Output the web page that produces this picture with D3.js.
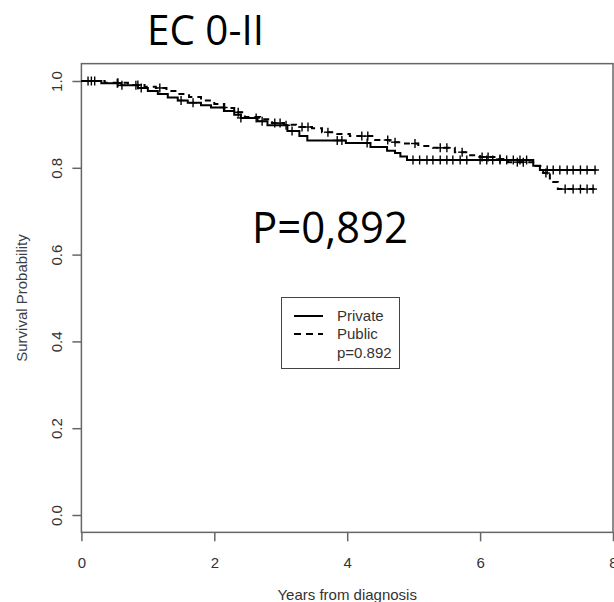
<!DOCTYPE html>
<html>
<head>
<meta charset="utf-8">
<script src="https://cdn.jsdelivr.net/npm/d3@7"></script>
<style>
  html, body { margin: 0; padding: 0; background: #fff; }
  svg { display: block; }
</style>
</head>
<body>
<svg id="chart" width="614" height="602"></svg>
<script>
// ---------------- data ----------------
const xTicks = [0, 2, 4, 6, 8];
const yTicks = [0.0, 0.2, 0.4, 0.6, 0.8, 1.0];

// Private (solid) : event times and survival after each step
const privateTimes = [0.30, 0.60, 0.85, 1.00, 1.15, 1.30, 1.45, 1.60, 1.80, 1.95, 2.15, 2.30, 2.40, 2.65, 2.80, 3.10, 3.28, 3.40, 3.98, 4.35, 4.60, 4.72, 4.80, 4.90, 6.80, 6.90];
const privateSurv  = [0.995, 0.990, 0.984, 0.977, 0.970, 0.962, 0.955, 0.950, 0.944, 0.939, 0.931, 0.922, 0.915, 0.907, 0.898, 0.885, 0.873, 0.863, 0.857, 0.848, 0.839, 0.834, 0.826, 0.818, 0.805, 0.795];
const privateCensor = [0.10, 0.20, 0.54, 0.61, 0.82, 0.90, 1.50, 1.68, 2.14, 2.40, 2.63, 2.72, 3.08, 3.17, 3.85, 3.92, 4.30, 4.99, 5.09, 5.20, 5.29, 5.40, 5.50, 5.59, 5.70, 5.80, 6.00, 6.10, 6.19, 6.30, 6.40, 6.50, 6.60, 6.70, 7.01, 7.10, 7.20, 7.31, 7.40, 7.51, 7.61, 7.73];
const privateEnd = 7.75;

// Public (dashed)
const publicTimes = [0.35, 0.70, 0.95, 1.12, 1.28, 1.45, 1.62, 1.80, 2.00, 2.15, 2.30, 2.46, 2.69, 2.87, 3.05, 3.23, 3.47, 3.62, 3.85, 4.04, 4.42, 4.64, 4.87, 5.07, 5.29, 5.62, 5.82, 6.00, 6.24, 6.42, 6.84, 6.95, 7.05, 7.17];
const publicSurv  = [0.996, 0.991, 0.987, 0.984, 0.977, 0.970, 0.963, 0.955, 0.947, 0.938, 0.928, 0.917, 0.912, 0.903, 0.899, 0.894, 0.891, 0.882, 0.878, 0.873, 0.864, 0.859, 0.856, 0.850, 0.846, 0.836, 0.829, 0.825, 0.820, 0.813, 0.804, 0.788, 0.767, 0.751];
const publicCensor = [0.15, 0.55, 0.85, 1.18, 2.36, 2.91, 2.99, 3.32, 3.41, 3.71, 4.22, 4.31, 4.61, 4.72, 5.02, 5.40, 5.50, 5.73, 6.03, 6.12, 6.30, 6.56, 6.65, 6.99, 7.28, 7.40, 7.51, 7.61, 7.70];
const publicEnd = 7.72;

const groupNames = ["Private", "Public"];
const pValueText = "p=0.892";
const bigPText = "P=0,892";
const titleText = "EC 0-II";
const xLabel = "Years from diagnosis";
const yLabel = "Survival Probability";

// ---------------- chart ----------------
const svg = d3.select("#chart");
const x = d3.scaleLinear().domain([0, 8]).range([81.4, 613]);
const y = d3.scaleLinear().domain([0, 1]).range([515, 81]);
const axisColor = "#666";
const textColor = "#333";
const tickFont = "Liberation Sans, Arial, sans-serif";

// frame (box) with 4% y extension
const y0px = y(-0.04), y1px = y(1.04);
svg.append("rect")
  .attr("x", x(0)).attr("y", y1px)
  .attr("width", x(8) - x(0)).attr("height", y0px - y1px)
  .attr("fill", "none").attr("stroke", axisColor).attr("stroke-width", 1.5);

// x axis
const xAxis = d3.axisBottom(x).tickValues(xTicks).tickFormat(d3.format("d")).tickSize(9).tickPadding(16);
const gx = svg.append("g").attr("transform", `translate(0,${y0px})`).call(xAxis);
gx.select(".domain").remove();
gx.selectAll("line").attr("stroke", axisColor).attr("stroke-width", 1.5);
gx.selectAll("text").attr("font-family", tickFont).attr("font-size", 15).attr("fill", textColor);

// y axis
const yAxis = d3.axisLeft(y).tickValues(yTicks).tickFormat(d3.format(".1f")).tickSize(9).tickPadding(0);
const gy = svg.append("g").attr("transform", `translate(${x(0)},0)`).call(yAxis);
gy.select(".domain").remove();
gy.selectAll("line").attr("stroke", axisColor).attr("stroke-width", 1.5);
gy.selectAll("text")
  .attr("font-family", tickFont).attr("font-size", 15).attr("fill", textColor)
  .attr("x", null).attr("dy", null)
  .attr("text-anchor", "middle")
  .attr("transform", "translate(-19,0) rotate(-90)");

// axis labels
svg.append("text")
  .attr("x", x(4)).attr("y", 600)
  .attr("text-anchor", "middle")
  .attr("font-family", tickFont).attr("font-size", 15).attr("fill", textColor)
  .text(xLabel);

svg.append("clipPath").attr("id", "ylabClip")
  .append("rect").attr("x", 15).attr("y", 0).attr("width", 60).attr("height", 602);
svg.append("g").attr("clip-path", "url(#ylabClip)")
  .append("text")
  .attr("transform", `translate(27,${y(0.5)}) rotate(-90)`)
  .attr("text-anchor", "middle")
  .attr("font-family", tickFont).attr("font-size", 15).attr("fill", "#3a3f4a")
  .text(yLabel);

// curves
function stepPoints(times, surv, end) {
  const pts = [[0, 1]];
  times.forEach((t, i) => pts.push([t, surv[i]]));
  pts.push([end, surv[surv.length - 1]]);
  return pts;
}
function survAt(times, surv, t) {
  const i = d3.bisectRight(times, t);
  return i === 0 ? 1 : surv[i - 1];
}
const line = d3.line().x(d => x(d[0])).y(d => y(d[1])).curve(d3.curveStepAfter);

const series = [
  { times: privateTimes, surv: privateSurv, cens: privateCensor, end: privateEnd, dash: null },
  { times: publicTimes, surv: publicSurv, cens: publicCensor, end: publicEnd, dash: "6,5" }
];

series.slice().reverse().forEach(s => {
  svg.append("path")
    .attr("d", line(stepPoints(s.times, s.surv, s.end)))
    .attr("fill", "none").attr("stroke", "#000").attr("stroke-width", 2)
    .attr("stroke-dasharray", s.dash);
  const g = svg.append("g");
  s.cens.forEach(t => {
    const cx = x(t), cy = y(survAt(s.times, s.surv, t));
    g.append("line").attr("x1", cx - 4).attr("x2", cx + 4).attr("y1", cy).attr("y2", cy)
      .attr("stroke", "#000").attr("stroke-width", 1.4);
    g.append("line").attr("x1", cx).attr("x2", cx).attr("y1", cy - 4.5).attr("y2", cy + 4.5)
      .attr("stroke", "#000").attr("stroke-width", 1.4);
  });
});

// legend
const leg = svg.append("g");
leg.append("rect").attr("x", 281.5).attr("y", 297.5).attr("width", 118).attr("height", 71)
  .attr("fill", "#fff").attr("stroke", "#444").attr("stroke-width", 1);
const legRows = [321, 339, 358];
groupNames.forEach((name, i) => {
  leg.append("line").attr("x1", 294).attr("x2", 323)
    .attr("y1", legRows[i] - 5).attr("y2", legRows[i] - 5)
    .attr("stroke", "#000").attr("stroke-width", 2)
    .attr("stroke-dasharray", series[i].dash ? "7,5" : null);
  leg.append("text").attr("x", 337).attr("y", legRows[i])
    .attr("font-family", tickFont).attr("font-size", 15).attr("fill", "#333").text(name);
});
leg.append("text").attr("x", 337).attr("y", legRows[2])
  .attr("font-family", tickFont).attr("font-size", 15).attr("fill", "#333").text(pValueText);

// big annotations
svg.append("text").attr("x", 147).attr("y", 45)
  .attr("font-family", "Open Sans, sans-serif").attr("font-size", 42).attr("fill", "#000")
  .attr("textLength", 117).attr("lengthAdjust", "spacingAndGlyphs")
  .text(titleText);
svg.append("text").attr("x", 252).attr("y", 243)
  .attr("font-family", "Open Sans, sans-serif").attr("font-size", 44).attr("fill", "#000")
  .attr("textLength", 156).attr("lengthAdjust", "spacingAndGlyphs")
  .text(bigPText);
</script>
</body>
</html>
